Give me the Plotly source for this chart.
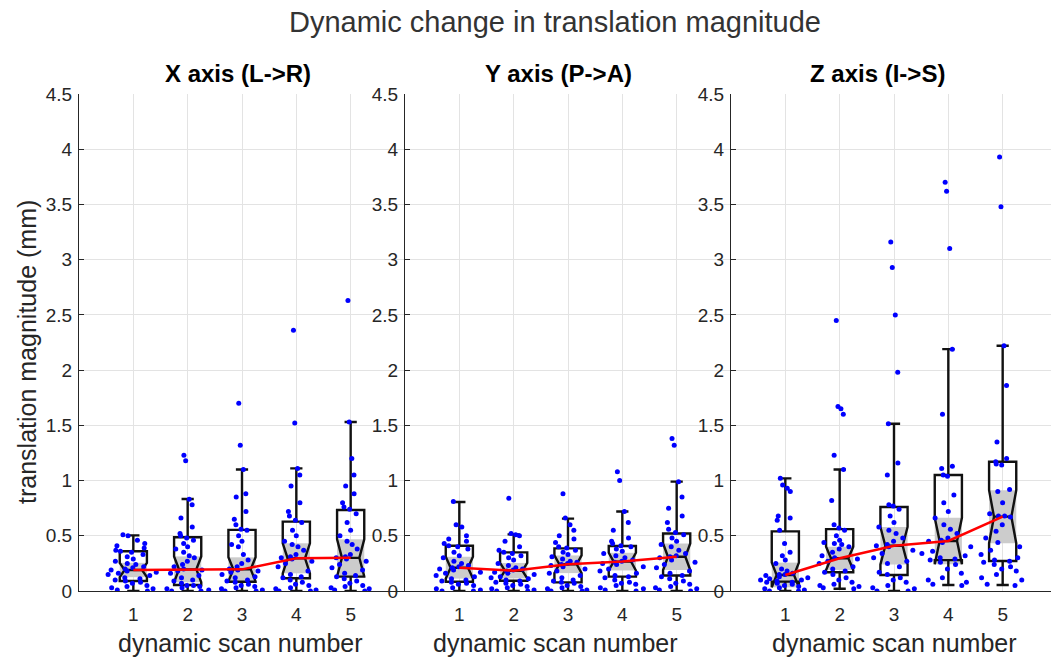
import plotly.graph_objects as go

# ---------------- data ----------------
scans = [1, 2, 3, 4, 5]
panel_titles = ["X axis (L->R)", "Y axis (P->A)", "Z axis (I->S)"]

# box statistics per axis (mm)
x_q1 = [0.09, 0.054, 0.084, 0.115, 0.13]
x_med = [0.19, 0.196, 0.196, 0.296, 0.30]
x_q3 = [0.36, 0.486, 0.553, 0.628, 0.733]
x_lo = [0.0, 0.0, 0.0, 0.0, 0.0]
x_hi = [0.504, 0.833, 1.10, 1.11, 1.53]
x_notch = [0.065, 0.117, 0.109, 0.136, 0.168]

y_q1 = [0.084, 0.093, 0.078, 0.13, 0.14]
y_med = [0.211, 0.184, 0.242, 0.266, 0.31]
y_q3 = [0.41, 0.35, 0.386, 0.408, 0.52]
y_lo = [0.0, 0.0, 0.0, 0.0, 0.0]
y_hi = [0.806, 0.513, 0.655, 0.72, 0.99]
y_notch = [0.099, 0.07, 0.08, 0.08, 0.12]

z_q1 = [0.085, 0.17, 0.145, 0.28, 0.272]
z_med = [0.145, 0.296, 0.41, 0.453, 0.673]
z_q3 = [0.54, 0.56, 0.761, 1.05, 1.17]
z_lo = [0.0, 0.02, 0.0, 0.054, 0.054]
z_hi = [1.02, 1.10, 1.515, 2.19, 2.22]
z_notch = [0.112, 0.105, 0.17, 0.21, 0.24]

# individual subject values per scan (mm)
x_s1 = [0.51, 0.50, 0.46, 0.43, 0.41, 0.39, 0.37, 0.36, 0.35, 0.33, 0.31, 0.29,
        0.27, 0.25, 0.24, 0.22, 0.21, 0.20, 0.19, 0.18, 0.17, 0.16, 0.15, 0.14,
        0.12, 0.11, 0.10, 0.09, 0.08, 0.07, 0.05, 0.04, 0.03, 0.02, 0.01, 0.00]
x_s2 = [1.23, 1.18, 0.83, 0.78, 0.66, 0.58, 0.52, 0.50, 0.48, 0.46, 0.43, 0.40,
        0.38, 0.35, 0.32, 0.30, 0.27, 0.24, 0.22, 0.20, 0.19, 0.18, 0.16, 0.14,
        0.12, 0.10, 0.09, 0.07, 0.05, 0.04, 0.03, 0.02, 0.01, 0.00, 0.00, 0.05]
x_s3 = [1.70, 1.32, 1.10, 0.88, 0.85, 0.72, 0.65, 0.60, 0.56, 0.55, 0.50, 0.45,
        0.42, 0.40, 0.33, 0.28, 0.25, 0.22, 0.20, 0.19, 0.18, 0.17, 0.15, 0.13,
        0.12, 0.10, 0.09, 0.08, 0.06, 0.05, 0.03, 0.02, 0.01, 0.00, 0.00, 0.04]
x_s4 = [2.36, 1.52, 1.11, 1.05, 0.95, 0.80, 0.72, 0.68, 0.64, 0.62, 0.55, 0.50,
        0.45, 0.42, 0.40, 0.37, 0.33, 0.31, 0.30, 0.29, 0.27, 0.25, 0.22, 0.18,
        0.15, 0.13, 0.12, 0.10, 0.08, 0.06, 0.05, 0.03, 0.02, 0.01, 0.00, 0.00]
x_s5 = [2.63, 1.53, 1.20, 1.05, 0.95, 0.88, 0.80, 0.76, 0.74, 0.70, 0.62, 0.55,
        0.50, 0.45, 0.42, 0.38, 0.33, 0.31, 0.30, 0.29, 0.27, 0.24, 0.21, 0.19,
        0.16, 0.14, 0.13, 0.11, 0.09, 0.07, 0.05, 0.03, 0.02, 0.01, 0.00, 0.04]

y_s1 = [0.81, 0.60, 0.58, 0.50, 0.47, 0.45, 0.43, 0.41, 0.40, 0.38, 0.35, 0.32,
        0.30, 0.27, 0.25, 0.23, 0.22, 0.21, 0.20, 0.19, 0.17, 0.16, 0.14, 0.13,
        0.11, 0.10, 0.09, 0.08, 0.07, 0.06, 0.05, 0.03, 0.02, 0.01, 0.00, 0.00]
y_s2 = [0.84, 0.52, 0.51, 0.50, 0.45, 0.40, 0.37, 0.35, 0.34, 0.32, 0.30, 0.28,
        0.25, 0.23, 0.21, 0.20, 0.19, 0.18, 0.17, 0.16, 0.15, 0.13, 0.12, 0.11,
        0.10, 0.09, 0.08, 0.07, 0.06, 0.05, 0.04, 0.03, 0.02, 0.01, 0.00, 0.00]
y_s3 = [0.88, 0.66, 0.60, 0.55, 0.50, 0.47, 0.44, 0.40, 0.39, 0.37, 0.35, 0.33,
        0.31, 0.29, 0.27, 0.26, 0.25, 0.24, 0.23, 0.22, 0.20, 0.18, 0.16, 0.14,
        0.12, 0.10, 0.09, 0.08, 0.07, 0.05, 0.04, 0.03, 0.02, 0.01, 0.00, 0.00]
y_s4 = [1.08, 1.00, 0.72, 0.62, 0.55, 0.48, 0.45, 0.43, 0.41, 0.40, 0.38, 0.36,
        0.34, 0.32, 0.30, 0.28, 0.27, 0.26, 0.25, 0.24, 0.22, 0.20, 0.18, 0.16,
        0.14, 0.13, 0.12, 0.10, 0.08, 0.07, 0.06, 0.05, 0.03, 0.02, 0.01, 0.00]
y_s5 = [1.38, 1.32, 0.99, 0.85, 0.75, 0.68, 0.62, 0.56, 0.53, 0.51, 0.48, 0.45,
        0.42, 0.40, 0.37, 0.34, 0.32, 0.31, 0.30, 0.28, 0.26, 0.24, 0.21, 0.18,
        0.16, 0.14, 0.13, 0.11, 0.09, 0.07, 0.06, 0.04, 0.03, 0.02, 0.01, 0.00]

z_s1 = [1.02, 0.96, 0.93, 0.90, 0.68, 0.66, 0.64, 0.55, 0.43, 0.35, 0.32, 0.28,
        0.25, 0.20, 0.18, 0.16, 0.15, 0.15, 0.14, 0.13, 0.12, 0.11, 0.10, 0.10,
        0.09, 0.08, 0.08, 0.07, 0.06, 0.05, 0.04, 0.03, 0.02, 0.01, 0.00, 0.00]
z_s2 = [2.45, 1.67, 1.65, 1.60, 1.23, 1.10, 0.82, 0.60, 0.57, 0.55, 0.50, 0.46,
        0.44, 0.43, 0.42, 0.40, 0.38, 0.35, 0.32, 0.30, 0.29, 0.27, 0.25, 0.22,
        0.20, 0.18, 0.17, 0.15, 0.12, 0.10, 0.08, 0.06, 0.04, 0.03, 0.02, 0.05]
z_s3 = [3.16, 2.93, 2.50, 1.98, 1.515, 1.16, 1.05, 0.78, 0.77, 0.74, 0.68, 0.62,
        0.58, 0.55, 0.52, 0.48, 0.45, 0.42, 0.41, 0.40, 0.37, 0.34, 0.30, 0.27,
        0.25, 0.22, 0.17, 0.15, 0.12, 0.10, 0.08, 0.05, 0.03, 0.02, 0.00, 0.00]
z_s4 = [3.70, 3.62, 3.10, 2.19, 1.60, 1.13, 1.11, 1.05, 1.04, 0.87, 0.80, 0.72,
        0.66, 0.60, 0.56, 0.52, 0.48, 0.46, 0.45, 0.44, 0.40, 0.36, 0.34, 0.32,
        0.30, 0.29, 0.28, 0.26, 0.24, 0.20, 0.16, 0.12, 0.10, 0.08, 0.06, 0.05]
z_s5 = [3.93, 3.48, 2.22, 1.86, 1.35, 1.20, 1.17, 1.15, 1.14, 0.92, 0.90, 0.80,
        0.70, 0.68, 0.68, 0.67, 0.60, 0.54, 0.48, 0.44, 0.40, 0.37, 0.33, 0.30,
        0.28, 0.27, 0.26, 0.24, 0.22, 0.20, 0.18, 0.15, 0.12, 0.10, 0.06, 0.05]

y_ticks = [0, 0.5, 1, 1.5, 2, 2.5, 3, 3.5, 4, 4.5]
y_tick_text = ["0", "0.5", "1", "1.5", "2", "2.5", "3", "3.5", "4", "4.5"]

# ---------------- styling ----------------
FONT = "Liberation Sans, Arial, sans-serif"
TXT = "#262626"
BOX_W = 0.5
SPREAD_W = 1.0

panels = [
    dict(q1=x_q1, med=x_med, q3=x_q3, lo=x_lo, hi=x_hi, notch=x_notch,
         samples=[x_s1, x_s2, x_s3, x_s4, x_s5]),
    dict(q1=y_q1, med=y_med, q3=y_q3, lo=y_lo, hi=y_hi, notch=y_notch,
         samples=[y_s1, y_s2, y_s3, y_s4, y_s5]),
    dict(q1=z_q1, med=z_med, q3=z_q3, lo=z_lo, hi=z_hi, notch=z_notch,
         samples=[z_s1, z_s2, z_s3, z_s4, z_s5]),
]

fig = go.Figure()

for i, p in enumerate(panels):
    xa = "x" if i == 0 else f"x{i + 1}"
    ya = "y" if i == 0 else f"y{i + 1}"

    # shaded median confidence band (notch extent)
    fig.add_trace(go.Bar(
        x=scans,
        base=[m - n for m, n in zip(p["med"], p["notch"])],
        y=[2 * n for n in p["notch"]],
        width=BOX_W, marker=dict(color="#cccccc", line=dict(width=0)),
        xaxis=xa, yaxis=ya, showlegend=False, hoverinfo="skip"))

    # notched boxes from the summary statistics
    fig.add_trace(go.Box(
        x=scans, q1=p["q1"], median=p["med"], q3=p["q3"],
        lowerfence=p["lo"], upperfence=p["hi"], notchspan=p["notch"],
        notched=True, notchwidth=0.18, boxpoints=False,
        width=BOX_W, whiskerwidth=0.45,
        fillcolor="rgba(0,0,0,0)", line=dict(color="#111111", width=2.4),
        xaxis=xa, yaxis=ya, showlegend=False, hoverinfo="skip"))

    # individual values, spread around each scan position
    for k, vals in zip(scans, p["samples"]):
        fig.add_trace(go.Box(
            x=[k] * len(vals), y=vals, boxpoints="all", jitter=1.0, pointpos=0,
            width=SPREAD_W, fillcolor="rgba(0,0,0,0)",
            line=dict(color="rgba(0,0,0,0)", width=0),
            marker=dict(color="#0000ff", size=5),
            xaxis=xa, yaxis=ya, showlegend=False, hoverinfo="skip"))

    # median trend
    fig.add_trace(go.Scatter(
        x=scans, y=p["med"], mode="lines",
        line=dict(color="#ff0000", width=2.5),
        xaxis=xa, yaxis=ya, showlegend=False, hoverinfo="skip"))

# ---------------- axes ----------------
L, R, T, B = 79, 0, 94, 70
W, H = 1051, 661
plot_w = W - L - R
unit = 326 / 6.0                 # pixels per scan step
d1 = 326 / plot_w
d2 = 2 * d1
x3_max = (W - L - 2 * 326) / unit

layout_axes = {}
domains = [[0, d1], [d1, d2], [d2, 1.0]]
xranges = [[0, 6], [0, 6], [0, x3_max]]
for i in range(3):
    sx = "" if i == 0 else str(i + 1)
    layout_axes[f"xaxis{sx}"] = dict(
        domain=domains[i], range=xranges[i], tickvals=scans,
        ticktext=[str(s) for s in scans], showgrid=True, gridcolor="#e3e3e3",
        gridwidth=1, zeroline=False, showline=True, linecolor=TXT, linewidth=1.2,
        ticks="", tickfont=dict(family=FONT, size=19, color=TXT),
        ticklabelstandoff=6, anchor="y" if i == 0 else f"y{i + 1}", fixedrange=True)
    layout_axes[f"yaxis{sx}"] = dict(
        domain=[0, 1], range=[0, 4.5], tickvals=y_ticks, ticktext=y_tick_text,
        showgrid=True, gridcolor="#e3e3e3", gridwidth=1, zeroline=False,
        showline=True, linecolor=TXT, linewidth=1.2, ticks="inside", ticklen=5,
        tickcolor=TXT, tickfont=dict(family=FONT, size=19, color=TXT),
        ticklabelstandoff=2, anchor="x" if i == 0 else f"x{i + 1}", fixedrange=True)

annotations = [
    dict(text="Dynamic change in translation magnitude", xref="paper", yref="paper",
         x=(555 - L) / plot_w, y=1 + (T - 22) / (H - T - B), xanchor="center",
         yanchor="middle", showarrow=False,
         font=dict(family=FONT, size=29, color="#333333")),
    dict(text="translation magnitude (mm)", xref="paper", yref="paper",
         x=(27 - L) / plot_w, y=(H - B - 352) / (H - T - B), textangle=-90,
         xanchor="center", yanchor="middle", showarrow=False,
         font=dict(family=FONT, size=25, color=TXT)),
]
title_centres = [238, 558, 877]
xlabel_centres = [240, 555, 894]
for i in range(3):
    annotations.append(dict(
        text=f"<b>{panel_titles[i]}</b>", xref="paper", yref="paper",
        x=(title_centres[i] - L) / plot_w, y=1 + (T - 73) / (H - T - B),
        xanchor="center", yanchor="middle", showarrow=False,
        font=dict(family=FONT, size=24, color="#000000")))
    annotations.append(dict(
        text="dynamic scan number", xref="paper", yref="paper",
        x=(xlabel_centres[i] - L) / plot_w, y=-(643 - (H - B)) / (H - T - B),
        xanchor="center", yanchor="middle", showarrow=False,
        font=dict(family=FONT, size=25, color=TXT)))

fig.update_layout(
    width=W, height=H, margin=dict(l=L, r=R, t=T, b=B, pad=0),
    paper_bgcolor="white", plot_bgcolor="white",
    boxmode="overlay", barmode="overlay", showlegend=False,
    annotations=annotations, **layout_axes)

fig.write_html("out.html", config={"displayModeBar": False})
